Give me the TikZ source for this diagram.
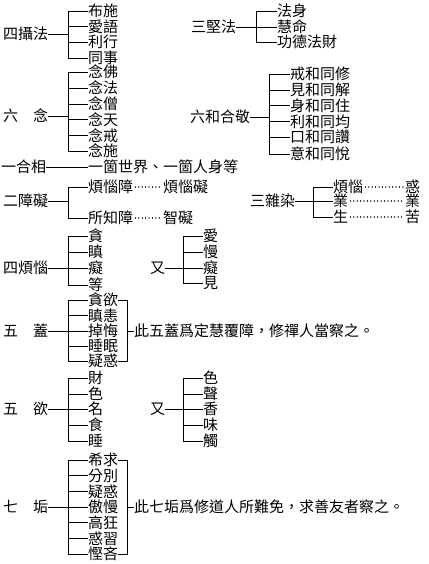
\documentclass[tikz,border=0pt]{standalone}
\usepackage{fontspec}
\newfontfamily\cjk{Noto Sans CJK TC}
\begin{document}
\begin{tikzpicture}[x=1pt,y=-1pt,
  lbl/.style={font=\cjk\fontsize{15}{15}\selectfont, inner sep=0pt, anchor=west, text height=12pt, text depth=0.6pt},
  ln/.style={line width=0.8pt, black},
  dotln/.style={line width=1.2pt, dash pattern=on 0.01pt off 3.4pt, line cap=round}]
\useasboundingbox (0,0) rectangle (428,564);

% ---- 四攝法
\node[lbl] (sA) at (3,34) {四攝法};
\coordinate (bA) at (68,11); \coordinate (bAe) at (68,58);
\draw[ln] (bA) -- (bAe);
\draw[ln] (sA.east) -- (sA.east -| bA);
\foreach \t/\y [count=\i] in {布施/11,愛語/26.5,利行/42,同事/58}
  {\node[lbl] (A\i) at (88,\y) {\t}; \draw[ln] (A\i.west -| bA) -- (A\i.west);}

% ---- 三堅法
\node[lbl] (sB) at (191,27) {三堅法};
\coordinate (bB) at (256,11); \coordinate (bBe) at (256,42);
\draw[ln] (bB) -- (bBe);
\draw[ln] (sB.east) -- (sB.east -| bB);
\foreach \t/\y [count=\i] in {法身/11,慧命/27,功德法財/42}
  {\node[lbl] (B\i) at (277,\y) {\t}; \draw[ln] (B\i.west -| bB) -- (B\i.west);}

% ---- 六念
\node[lbl] (sC) at (3,116) {六　念};
\coordinate (bC) at (68,72); \coordinate (bCe) at (68,151);
\draw[ln] (bC) -- (bCe);
\draw[ln] (sC.east) -- (sC.east -| bC);
\foreach \t/\y [count=\i] in {念佛/72,念法/88,念僧/104,念天/119.5,念戒/135.5,念施/151}
  {\node[lbl] (C\i) at (88,\y) {\t}; \draw[ln] (C\i.west -| bC) -- (C\i.west);}

% ---- 六和合敬
\node[lbl] (sD) at (190,117) {六和合敬};
\coordinate (bD) at (269,74); \coordinate (bDe) at (269,154);
\draw[ln] (bD) -- (bDe);
\draw[ln] (sD.east) -- (sD.east -| bD);
\foreach \t/\y [count=\i] in {戒和同修/74,見和同解/90,身和同住/105.5,利和同均/121.5,口和同讚/137,意和同悅/154}
  {\node[lbl] (D\i) at (290,\y) {\t}; \draw[ln] (D\i.west -| bD) -- (D\i.west);}

% ---- 一合相
\node[lbl] (sE) at (1,167) {一合相};
\node[lbl] (E1) at (88,167) {一箇世界、一箇人身等};
\draw[ln] (sE.east) -- (E1.west);

% ---- 二障礙
\node[lbl] (sF) at (3,201) {二障礙};
\coordinate (bF) at (68,187); \coordinate (bFe) at (68,218);
\draw[ln] (bF) -- (bFe);
\draw[ln] (sF.east) -- (sF.east -| bF);
\node[lbl] (F1) at (88,187) {煩惱障};
\node[lbl] (F2) at (88,218) {所知障};
\draw[ln] (F1.west -| bF) -- (F1.west);
\draw[ln] (F2.west -| bF) -- (F2.west);
\node[lbl] (F1t) at (163,187) {煩惱礙};
\node[lbl] (F2t) at (163,218) {智礙};
\draw[dotln] ([xshift=2pt]F1.east) -- ([xshift=-1pt]F1t.west);
\draw[dotln] ([xshift=2pt]F2.east) -- ([xshift=-1pt]F2t.west);

% ---- 三雜染
\node[lbl] (sG) at (250,201) {三雜染};
\coordinate (bG) at (313,187); \coordinate (bGe) at (313,217);
\draw[ln] (bG) -- (bGe);
\draw[ln] (sG.east) -- (sG.east -| bG);
\foreach \t/\u/\y [count=\i] in {煩惱/惑/187,業/業/201,生/苦/217}
  {\node[lbl] (G\i) at (333,\y) {\t}; \draw[ln] (G\i.west -| bG) -- (G\i.west);
   \node[lbl] (G\i t) at (405,\y) {\u};
   \draw[dotln] ([xshift=2pt]G\i.east) -- ([xshift=-1pt]G\i t.west);}

% ---- 四煩惱
\node[lbl] (sH) at (3,268) {四煩惱};
\coordinate (bH) at (68,236); \coordinate (bHe) at (68,285);
\draw[ln] (bH) -- (bHe);
\draw[ln] (sH.east) -- (sH.east -| bH);
\foreach \t/\y [count=\i] in {貪/236,瞋/252,癡/268,等/285}
  {\node[lbl] (H\i) at (88,\y) {\t}; \draw[ln] (H\i.west -| bH) -- (H\i.west);}
\node[lbl] (sH2) at (150,268) {又};
\coordinate (bH2) at (183,236); \coordinate (bH2e) at (183,283);
\draw[ln] (bH2) -- (bH2e);
\draw[ln] (sH2.east) -- (sH2.east -| bH2);
\foreach \t/\y [count=\i] in {愛/236,慢/252,癡/268,見/283}
  {\node[lbl] (HH\i) at (203,\y) {\t}; \draw[ln] (HH\i.west -| bH2) -- (HH\i.west);}

% ---- 五蓋
\node[lbl] (sI) at (3,331) {五　蓋};
\coordinate (bI) at (68,300); \coordinate (bIe) at (68,361);
\draw[ln] (bI) -- (bIe);
\draw[ln] (sI.east) -- (sI.east -| bI);
\foreach \t/\y [count=\i] in {貪欲/300,瞋恚/315.5,掉悔/331,睡眠/346,疑惑/361}
  {\node[lbl] (I\i) at (88,\y) {\t}; \draw[ln] (I\i.west -| bI) -- (I\i.west);}
\coordinate (rI) at (127,331);
\node[lbl] (nI) at (134,331) {此五蓋爲定慧覆障，修禪人當察之。};
\draw[ln] (I1.east) -- (I1.east -| rI) -- (I5.east -| rI) -- (I5.east);
\draw[ln] (rI) -- (nI.west);

% ---- 五欲
\node[lbl] (sJ) at (3,409) {五　欲};
\coordinate (bJ) at (68,378); \coordinate (bJe) at (68,441);
\draw[ln] (bJ) -- (bJe);
\draw[ln] (sJ.east) -- (sJ.east -| bJ);
\foreach \t/\y [count=\i] in {財/378,色/394,名/409,食/425,睡/441}
  {\node[lbl] (J\i) at (88,\y) {\t}; \draw[ln] (J\i.west -| bJ) -- (J\i.west);}
\node[lbl] (sJ2) at (150,409) {又};
\coordinate (bJ2) at (183,378); \coordinate (bJ2e) at (183,441);
\draw[ln] (bJ2) -- (bJ2e);
\draw[ln] (sJ2.east) -- (sJ2.east -| bJ2);
\foreach \t/\y [count=\i] in {色/378,聲/394,香/409,味/425,觸/441}
  {\node[lbl] (JJ\i) at (203,\y) {\t}; \draw[ln] (JJ\i.west -| bJ2) -- (JJ\i.west);}

% ---- 七垢
\node[lbl] (sK) at (3,507) {七　垢};
\coordinate (bK) at (68,460); \coordinate (bKe) at (68,554);
\draw[ln] (bK) -- (bKe);
\draw[ln] (sK.east) -- (sK.east -| bK);
\foreach \t/\y [count=\i] in {希求/460,分別/475.7,疑惑/491.3,傲慢/507,高狂/522.7,惑習/538.3,慳吝/554}
  {\node[lbl] (K\i) at (88,\y) {\t}; \draw[ln] (K\i.west -| bK) -- (K\i.west);}
\coordinate (rK) at (127,507);
\node[lbl] (nK) at (134,507) {此七垢爲修道人所難免，求善友者察之。};
\draw[ln] (K1.east) -- (K1.east -| rK) -- (K7.east -| rK) -- (K7.east);
\draw[ln] (rK) -- (nK.west);
\end{tikzpicture}
\end{document}
